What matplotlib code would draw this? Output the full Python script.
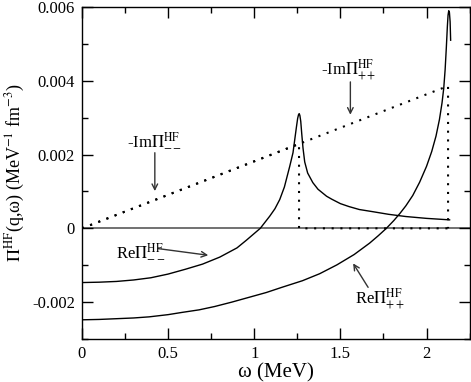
import matplotlib
matplotlib.use('Agg')
import matplotlib.pyplot as plt
from matplotlib.ticker import MultipleLocator

plt.rcParams['font.family'] = 'serif'
plt.rcParams['font.serif'] = ['Liberation Serif', 'DejaVu Serif']
plt.rcParams['mathtext.fontset'] = 'stix'

# Re Pi^HF_-- (omega in MeV, value in MeV^-1 fm^-3)
om_re_mm = [0.00, 0.10, 0.20, 0.30, 0.40, 0.50, 0.60, 0.70, 0.80, 0.90,
            0.955, 1.00, 1.035, 1.09, 1.12, 1.148, 1.175, 1.206, 1.225,
            1.235, 1.245, 1.252, 1.257, 1.261, 1.265, 1.27, 1.276, 1.283,
            1.293, 1.31, 1.34, 1.37, 1.42, 1.45, 1.50, 1.55, 1.61, 1.69,
            1.78, 1.88, 2.00, 2.134]
re_mm = [-0.00147, -0.00146, -0.00144, -0.00140, -0.00134, -0.00124,
         -0.00111, -0.00097, -0.00078, -0.00053, -0.00032, -0.00014,
         0.00000, 0.00033, 0.00053, 0.00078, 0.00112, 0.00168, 0.00205,
         0.00240, 0.00275, 0.00298, 0.00308, 0.00311, 0.00306, 0.00290,
         0.00255, 0.00218, 0.00180, 0.00150, 0.00124, 0.00106, 0.00087,
         0.00079, 0.00067, 0.00059, 0.00051, 0.00045, 0.00038, 0.00032,
         0.00027, 0.00023]

# Re Pi^HF_++
om_re_pp = [0.00, 0.10, 0.20, 0.30, 0.39, 0.50, 0.58, 0.68, 0.77, 0.87,
            0.97, 1.07, 1.16, 1.28, 1.38, 1.48, 1.58, 1.67, 1.72, 1.767,
            1.81, 1.845, 1.88, 1.92, 1.96, 2.00, 2.03, 2.055, 2.075, 2.09,
            2.10, 2.108, 2.115, 2.121, 2.125, 2.129, 2.133, 2.137, 2.140]
re_pp = [-0.00248, -0.00247, -0.00245, -0.00243, -0.00240, -0.00234,
         -0.00228, -0.00221, -0.00212, -0.00200, -0.00187, -0.00174,
         -0.00160, -0.00142, -0.00123, -0.00099, -0.00071, -0.00040,
         -0.00020, 0.00000, 0.00021, 0.00040, 0.00061, 0.00089, 0.00125,
         0.00168, 0.00208, 0.00250, 0.00295, 0.00340, 0.00380, 0.00430,
         0.00490, 0.00547, 0.00578, 0.00590, 0.00585, 0.00560, 0.00510]

# -Im Pi^HF_-- and -Im Pi^HF_++
om_im_mm = [0.0, 1.26, 1.26, 2.125]
im_mm = [0.0, 0.00229, 0.0, 0.0]
om_im_pp = [0.0, 2.125, 2.125]
im_pp = [0.0, 0.00386, 0.0]

xticks = [0, 0.5, 1, 1.5, 2]
xlabels = ['0', '0.5', '1', '1.5', '2']
yticks = [-0.002, 0, 0.002, 0.004, 0.006]
ylabels = ['-0.002', '0', '0.002', '0.004', '0.006']

fig = plt.figure(figsize=(4.71, 3.82), dpi=100)
ax = fig.add_axes([0.174, 0.1126, 0.823, 0.869])

ax.axhline(0, color='0.35', lw=1.2, zorder=1)
ax.plot(om_re_mm, re_mm, color='k', lw=1.0)
ax.plot(om_re_pp, re_pp, color='k', lw=1.0)
ax.plot(om_im_mm, im_mm, color='k', lw=1.5, ls=(0, (1, 3.2)))
ax.plot(om_im_pp, im_pp, color='k', lw=1.5, ls=(0, (1, 3.2)))

ax.set_xlim(0, 2.25)
ax.set_ylim(-0.003, 0.006)
ax.set_xticks(xticks)
ax.set_xticklabels(xlabels)
ax.set_yticks(yticks)
ax.set_yticklabels(ylabels)
ax.xaxis.set_minor_locator(MultipleLocator(0.25))
ax.yaxis.set_minor_locator(MultipleLocator(0.001))
ax.tick_params(which='both', direction='in', top=True, right=True,
               labelsize=12, width=1)
ax.tick_params(which='major', length=8, pad=5)
ax.tick_params(which='minor', length=4)
for s in ax.spines.values():
    s.set_linewidth(1.0)

ax.set_xlabel('ω (MeV)', fontsize=15, labelpad=1)
ax.set_ylabel(r'$\Pi^{\rm HF}$(q,ω) (MeV$^{-1}$ fm$^{-3}$)', fontsize=13,
              labelpad=4)

arr = dict(arrowstyle='->', color='0.2', lw=1.0, shrinkA=0, shrinkB=0)
ax.annotate('', xy=(0.423, 0.00101), xytext=(0.423, 0.00205),
            arrowprops=arr)
ax.text(0.42, 0.0024, r'-Im$\Pi^{\rm HF}_{--}$', fontsize=12,
        ha='center', va='center')
ax.annotate('', xy=(1.558, 0.00308), xytext=(1.558, 0.00397),
            arrowprops=arr)
ax.text(1.55, 0.0043, r'-Im$\Pi^{\rm HF}_{++}$', fontsize=12,
        ha='center', va='center')
ax.annotate('', xy=(0.733, -0.00073), xytext=(0.443, -0.00055),
            arrowprops=arr)
ax.text(0.2, -0.0006, r'Re$\Pi^{\rm HF}_{--}$', fontsize=12,
        ha='left', va='center')
ax.annotate('', xy=(1.574, -0.00095), xytext=(1.661, -0.0016),
            arrowprops=arr)
ax.text(1.585, -0.0019, r'Re$\Pi^{\rm HF}_{++}$', fontsize=12,
        ha='left', va='center')

fig.savefig('out.png', dpi=100)
